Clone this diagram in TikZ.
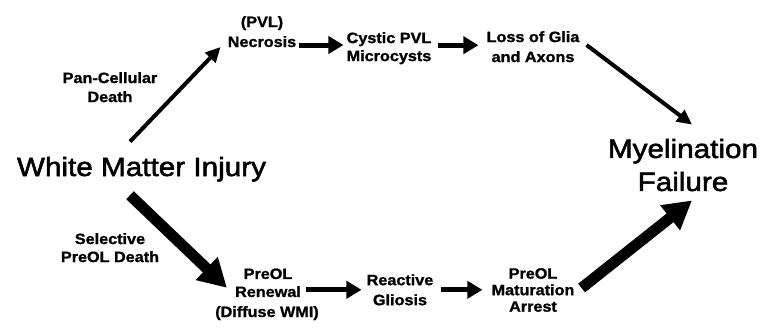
\documentclass[tikz,border=0pt]{standalone}
\usepackage{fontspec}
\newfontfamily\labfont{Liberation Sans}[FakeStretch=1.08, FakeBold=1.2]
\newfontfamily\bigfont{Liberation Sans}[FakeStretch=1.12, FakeBold=2.0]
\usetikzlibrary{arrows.meta,calc}
\begin{document}
\begin{tikzpicture}[x=1pt,y=-1pt,
  lbl/.style={font=\labfont\bfseries\fontsize{15}{19}\selectfont,align=center,inner sep=0pt},
  big/.style={font=\bigfont\fontsize{26.5}{33}\selectfont,align=center,inner sep=0pt},
  thinarrow/.style={line width=4pt,-{Triangle[length=15pt,width=14pt]}},
  harrow/.style={line width=5pt,-{Triangle[length=15pt,width=17pt]}},
  bigarrow/.style={line width=11pt,-{Triangle[length=28pt,width=30pt]}}]
\useasboundingbox[fill=white] (0,0) rectangle (762,327);
% nodes
\node[big,anchor=base] (wmi) at (141.5,176) {White Matter Injury};
\node[big] (mf) at (683,165) {Myelination\\Failure};
\node[lbl] (pan) at (110,87.2) {Pan-Cellular\\Death};
\node[lbl,anchor=base] (pvl) at (262,27) {(PVL)};
\node[lbl,anchor=base] (nec) at (262,47) {Necrosis};
\node[lbl,font=\labfont\bfseries\fontsize{15}{18}\selectfont] (cyst) at (389,48.2) {Cystic PVL\\Microcysts};
\node[lbl,font=\labfont\bfseries\fontsize{15}{20}\selectfont] (loss) at (533,46.7) {Loss of Glia\\and Axons};
\node[lbl,font=\labfont\bfseries\fontsize{15}{18}\selectfont] (sel) at (110,247.7) {Selective\\PreOL Death};
\node[lbl,font=\labfont\bfseries\fontsize{15}{18}\selectfont] (ren) at (268,282.8) {PreOL\\Renewal};
\node[lbl,anchor=base] (dwmi) at (267,317) {(Diffuse WMI)};
\node[lbl,font=\labfont\bfseries\fontsize{15}{20}\selectfont] (rea) at (400,289.8) {Reactive\\Gliosis};
\node[lbl,font=\labfont\bfseries\fontsize{15}{16.5}\selectfont] (arr) at (533,290) {PreOL\\Maturation\\Arrest};
% connectors
\draw[thinarrow] ($(wmi.north)+(-11.5,-15)$) -- ($(nec.base west)+(-7,0)$);
\draw[harrow] ($(nec.base east)+(3,-2)$) -- ($(nec.base east -| cyst.west)+(-3,-2)$);
\draw[harrow] ($(cyst.east)+(6,-3)$) -- ($(cyst.east -| loss.west)+(-8,-3)$);
\draw[thinarrow] ($(loss.east)+(7,-1.7)$) -- ($(mf.north)+(9,-14)$);
\draw[bigarrow] ($(wmi.south)+(-11.5,13.5)$) -- ($(ren.west)+(-8,5)$);
\draw[harrow] ($(ren.east)+(5,7)$) -- ($(ren.east -| rea.west)+(-5,7)$);
\draw[harrow] ($(rea.east)+(7,0)$) -- ($(rea.east -| arr.west)+(-9,0)$);
\draw[bigarrow] ($(arr.east)+(7,-2)$) -- ($(mf.south)+(9,9)$);
\end{tikzpicture}
\end{document}
